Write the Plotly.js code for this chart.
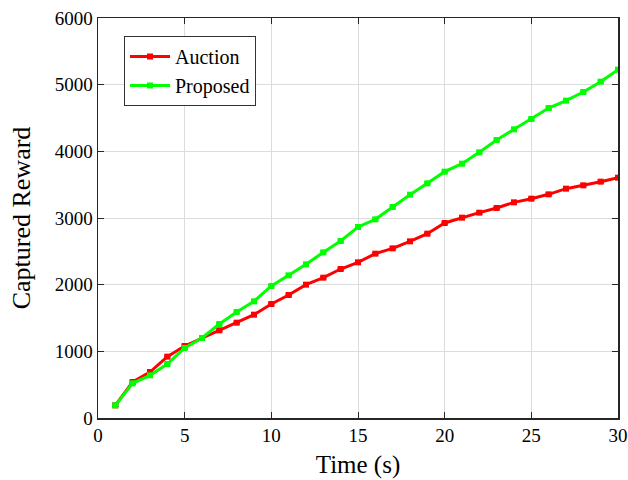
<!DOCTYPE html>
<html><head><meta charset="utf-8">
<script src="https://cdn.plot.ly/plotly-3.0.1.min.js"></script>
<style>body{margin:0;padding:0;background:#fff}#c{width:628px;height:480px}</style>
</head><body><div id="c"></div>
<script>
const timeS = [1,2,3,4,5,6,7,8,9,10,11,12,13,14,15,16,17,18,19,20,21,22,23,24,25,26,27,28,29,30];
const auction = [190,540,690,920,1080,1200,1315,1430,1550,1710,1845,2000,2105,2235,2335,2465,2545,2650,2765,2925,3005,3080,3150,3235,3290,3355,3440,3490,3545,3605];
const proposed = [190,520,640,810,1050,1200,1410,1590,1750,1980,2140,2305,2485,2655,2865,2980,3165,3350,3520,3695,3815,3985,4170,4330,4485,4650,4760,4890,5045,5225];
const errAuction = [15,15,15,15,15,15,15,15,15,15,15,15,15,15,15,15,15,15,15,15,15,15,15,15,15,15,15,15,15,15];
const errProposed = [15,15,15,15,15,15,15,15,15,15,15,15,15,15,15,15,15,15,15,15,15,15,15,15,15,15,15,15,15,15];
const seriesNames = ['Auction','Proposed'];

const traces = [
 {x: timeS, y: auction, name: seriesNames[0], mode:'lines+markers',
  line:{color:'#ff0000', width:3}, marker:{symbol:'square', size:6, color:'#ff0000'},
  error_y:{type:'data', array: errAuction, visible:true, color:'#ff0000', thickness:2, width:3}},
 {x: timeS, y: proposed, name: seriesNames[1], mode:'lines+markers',
  line:{color:'#00ff00', width:3}, marker:{symbol:'square', size:6, color:'#00ff00'},
  error_y:{type:'data', array: errProposed, visible:true, color:'#00ff00', thickness:2, width:3}}
];
const font = {family:'"Liberation Serif","Times New Roman",serif', color:'#000'};
const layout = {
 width:628, height:480,
 margin:{l:98, r:10, t:18, b:62},
 paper_bgcolor:'#fff', plot_bgcolor:'#fff',
 font: Object.assign({size:19}, font),
 showlegend:true,
 legend:{x:0.05, y:0.955, xanchor:'left', yanchor:'top', bgcolor:'#fff', bordercolor:'#333', borderwidth:1,
   font:Object.assign({size:20}, font), tracegroupgap:0, itemwidth:40},
 xaxis:{range:[0,30], dtick:5, tick0:0, showgrid:true, gridcolor:'#dcdcdc', gridwidth:1,
   zeroline:false, showline:true, linecolor:'#262626', linewidth:1.5, mirror:'ticks',
   ticks:'inside', ticklen:6, tickcolor:'#262626',
   tickfont:Object.assign({size:19}, font),
   title:{text:'Time (s)', font:Object.assign({size:25}, font), standoff:10}},
 yaxis:{range:[0,6000], dtick:1000, tick0:0, showgrid:true, gridcolor:'#dcdcdc', gridwidth:1,
   zeroline:false, showline:true, linecolor:'#262626', linewidth:1.5, mirror:'ticks',
   ticks:'inside', ticklen:6, tickcolor:'#262626',
   tickfont:Object.assign({size:19}, font),
   title:{text:'Captured Reward', font:Object.assign({size:26}, font), standoff:16}}
};
Plotly.newPlot('c', traces, layout, {displayModeBar:false, staticPlot:true});
</script></body></html>
